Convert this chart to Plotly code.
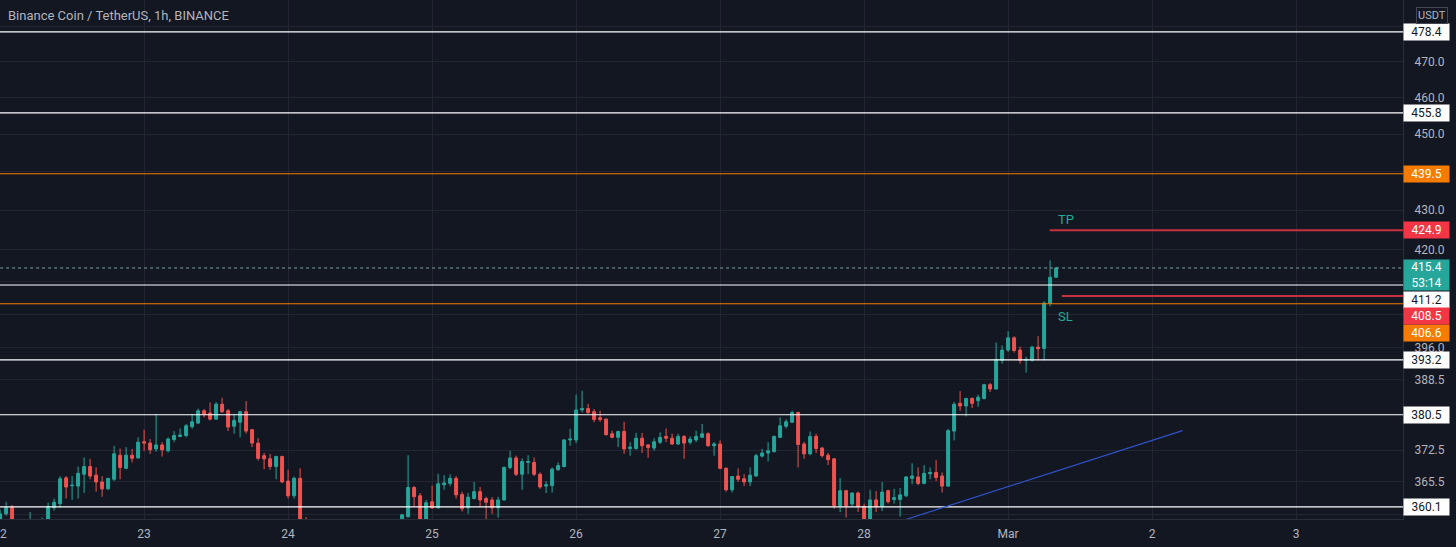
import numpy as np
import pandas as pd
import plotly.graph_objects as go

# ---------------- data (BNB/USDT, 1h candles from 2022-02-22 00:00) ----------------
start_time = "2022-02-22 00:00"

opens = [357.4, 358.6, 360.0, 355.0, 353.5, 355.0, 356.0, 354.5, 356.5, 359.9,
         360.8, 366.4, 364.7, 364.6, 367.2, 368.9, 367.0, 365.5, 364.0, 366.1,
         371.4, 368.5, 371.4, 370.8, 374.4, 374.1, 372.8, 373.7, 372.4, 374.9,
         375.6, 375.8, 377.8, 378.6, 381.4, 380.9, 379.5, 382.9, 381.4, 377.9,
         378.8, 381.2, 377.1, 374.1, 371.3, 370.6, 368.9, 371.1, 365.7, 362.5,
         366.3, 354.0, 351.0, 346.0, 338.0, 343.0, 346.0, 344.0, 348.0, 350.0,
         347.0, 350.0, 352.0, 350.0, 351.0, 353.0, 355.0, 357.3, 358.0, 364.3,
         362.5, 356.5, 361.2, 359.9, 364.9, 365.2, 366.3, 362.8, 359.9, 361.9,
         363.4, 361.9, 361.6, 359.9, 361.6, 368.7, 370.8, 367.2, 369.8, 369.8,
         367.2, 364.6, 364.7, 368.2, 368.9, 374.8, 374.8, 381.6, 381.9, 381.2,
         379.8, 379.5, 376.2, 375.4, 376.7, 372.9, 372.9, 375.2, 373.7, 373.0,
         374.3, 375.6, 375.2, 373.9, 375.6, 374.3, 374.8, 375.4, 376.2, 373.5,
         373.9, 368.5, 363.8, 366.8, 366.2, 365.5, 366.8, 371.2, 371.9, 372.2,
         375.4, 377.9, 378.8, 381.0, 373.9, 371.7, 375.6, 373.0, 371.4, 370.6,
         360.4, 363.6, 360.7, 363.1, 360.2, 356.5, 361.6, 360.2, 363.6, 361.7,
         361.7, 362.5, 366.3, 366.6, 365.2, 367.3, 367.6, 366.8, 364.6, 376.8,
         383.1, 382.5, 384.2, 383.7, 384.2, 387.4, 386.4, 393.1, 395.5, 398.4,
         395.5, 393.1, 393.1, 396.2, 395.9, 406.7, 413.1]
highs = [359.5, 361.2, 360.5, 356.5, 356.0, 359.0, 356.8, 357.8, 361.0, 361.9,
         366.8, 366.8, 366.8, 368.9, 370.9, 370.6, 368.7, 366.8, 366.4, 373.5,
         372.9, 373.2, 372.8, 375.4, 377.1, 375.0, 380.7, 374.3, 375.4, 376.8,
         377.4, 378.4, 380.7, 381.9, 381.8, 383.3, 383.4, 384.4, 381.8, 380.7,
         381.4, 383.6, 377.3, 375.2, 371.9, 371.7, 371.3, 371.3, 368.2, 366.7,
         368.5, 357.9, 353.0, 348.0, 345.0, 348.0, 350.0, 349.0, 352.0, 352.0,
         351.0, 354.0, 355.0, 353.0, 355.0, 356.0, 357.3, 358.6, 371.4, 364.6,
         363.1, 361.6, 364.7, 367.3, 367.0, 367.2, 366.8, 363.4, 363.1, 365.5,
         364.4, 362.3, 362.2, 362.3, 368.9, 372.4, 371.3, 370.7, 371.4, 370.9,
         367.6, 365.7, 368.7, 369.8, 375.0, 377.3, 385.1, 386.0, 383.0, 381.8,
         381.4, 379.7, 376.9, 376.9, 378.9, 374.3, 376.4, 376.4, 373.9, 375.2,
         376.5, 377.4, 376.2, 376.2, 375.9, 375.6, 376.9, 378.4, 376.5, 374.3,
         374.7, 368.7, 366.8, 368.5, 367.2, 368.7, 371.7, 372.8, 374.3, 375.8,
         379.9, 379.5, 381.4, 381.2, 374.4, 376.7, 376.2, 373.2, 371.9, 370.7,
         366.4, 363.8, 363.2, 363.4, 360.8, 363.8, 363.5, 365.5, 363.8, 364.0,
         364.2, 366.8, 369.6, 368.7, 369.2, 368.7, 370.3, 367.6, 377.3, 383.4,
         385.9, 384.4, 384.5, 385.1, 387.6, 387.8, 397.3, 396.6, 400.0, 398.8,
         396.3, 393.9, 396.5, 398.8, 407.2, 417.3, 415.7]
lows = [355.5, 358.2, 354.0, 352.0, 351.5, 353.5, 353.0, 353.5, 355.5, 359.3,
        359.9, 361.9, 361.6, 361.9, 363.1, 366.1, 363.4, 362.3, 363.8, 365.7,
        366.1, 368.3, 369.8, 370.6, 372.4, 371.7, 372.2, 371.1, 372.0, 374.3,
        375.4, 375.4, 377.3, 378.4, 379.9, 379.2, 379.4, 380.9, 376.8, 376.2,
        375.4, 376.2, 373.2, 370.2, 368.3, 368.2, 366.1, 365.3, 361.9, 361.9,
        352.0, 349.0, 344.0, 331.0, 335.0, 340.0, 342.0, 343.0, 346.0, 345.0,
        345.0, 348.0, 349.0, 347.0, 350.0, 351.0, 352.0, 356.0, 357.8, 360.2,
        355.0, 355.0, 359.7, 359.7, 363.8, 364.6, 361.9, 359.1, 358.6, 361.7,
        360.1, 357.5, 358.6, 357.8, 361.4, 368.3, 366.8, 363.8, 367.2, 366.8,
        364.0, 363.1, 363.2, 367.9, 368.7, 373.5, 374.1, 381.0, 380.7, 378.8,
        378.9, 375.8, 375.2, 373.2, 371.7, 371.3, 372.6, 371.9, 370.8, 372.4,
        373.9, 374.3, 373.7, 373.7, 370.6, 373.8, 374.3, 375.2, 373.3, 371.3,
        368.3, 363.4, 363.2, 365.5, 364.6, 364.6, 366.7, 370.9, 370.0, 372.0,
        375.2, 377.4, 378.6, 368.7, 370.6, 371.4, 371.9, 370.9, 369.2, 359.7,
        359.0, 357.8, 360.2, 359.0, 355.0, 355.5, 359.0, 359.2, 360.8, 360.8,
        358.0, 362.2, 365.0, 364.8, 365.0, 366.1, 365.7, 363.2, 364.4, 374.7,
        381.4, 380.1, 382.0, 382.3, 384.0, 385.7, 386.3, 392.3, 395.1, 394.9,
        392.3, 390.2, 392.8, 393.1, 393.1, 406.0, 412.9]
closes = [358.6, 360.0, 355.0, 353.5, 355.0, 356.0, 354.5, 356.5, 360.2, 361.1,
          366.2, 364.4, 364.8, 367.4, 368.9, 366.8, 365.5, 364.0, 366.3, 371.7,
          368.7, 371.4, 370.7, 374.3, 374.1, 372.6, 373.7, 372.6, 375.0, 375.8,
          375.9, 378.0, 378.9, 381.4, 380.6, 379.5, 382.9, 381.2, 377.7, 379.2,
          381.2, 376.8, 374.1, 370.7, 370.6, 368.9, 371.1, 365.5, 362.5, 366.3,
          354.0, 351.0, 346.0, 338.0, 343.0, 346.0, 344.0, 348.0, 350.0, 347.0,
          350.0, 352.0, 350.0, 351.0, 353.0, 355.0, 357.2, 358.4, 364.3, 362.3,
          356.5, 361.0, 359.9, 365.1, 365.3, 366.3, 362.7, 359.7, 362.2, 363.4,
          361.6, 361.1, 359.9, 361.6, 368.7, 370.8, 367.2, 370.0, 370.0, 367.2,
          364.4, 364.9, 368.3, 369.1, 374.8, 375.0, 381.6, 381.9, 381.0, 379.4,
          379.4, 376.0, 375.4, 376.7, 372.8, 373.2, 375.2, 373.5, 373.1, 374.4,
          375.4, 375.2, 373.9, 375.6, 374.1, 375.0, 375.6, 376.2, 373.5, 373.9,
          368.5, 363.8, 366.7, 366.1, 365.5, 367.0, 371.3, 371.9, 372.4, 375.6,
          378.0, 378.9, 381.0, 373.8, 371.7, 375.6, 372.9, 371.3, 370.4, 360.4,
          363.6, 360.4, 363.1, 360.2, 356.5, 361.6, 360.2, 363.3, 361.2, 362.1,
          362.7, 366.6, 366.8, 365.2, 367.4, 367.6, 366.5, 364.6, 376.9, 382.9,
          382.5, 384.2, 383.1, 384.5, 387.4, 386.4, 393.3, 395.5, 398.4, 395.4,
          393.1, 393.3, 396.2, 395.8, 406.8, 413.1, 415.4]

white_levels = [478.4, 455.8, 411.2, 393.2, 380.5, 360.1]
orange_levels = [439.5, 406.6]
tp_level = 424.9
sl_level = 408.5
last_price = 415.4
countdown = "53:14"
tp_start = "2022-03-01 06:57"
sl_start = "2022-03-01 08:57"
trend_times = ["2022-02-28 06:00", "2022-03-02 05:04"]
trend_prices = [357.0, 376.9]

grid_vals = [358.5, 365.5, 372.5, 380.5, 388.5, 396.0, 404.0, 412.0, 420.0,
             430.0, 440.0, 450.0, 460.0, 470.0, 480.0]
grid_text = ["", "365.5", "372.5", "", "388.5", "396.0", "", "", "420.0",
             "430.0", "", "450.0", "460.0", "470.0", ""]
day_ticks = ["2022-02-22", "2022-02-23", "2022-02-24", "2022-02-25", "2022-02-26",
             "2022-02-27", "2022-02-28", "2022-03-01", "2022-03-02", "2022-03-03"]
day_text = ["22", "23", "24", "25", "26", "27", "28", "Mar", "2", "3"]

x_range = ["2022-02-21 23:59:00", "2022-03-03 17:49:00"]
y_range = [357.5, 487.6]

# ---------------- styles ----------------
BG = "#131722"
GRID = "#232632"
TXT = "#b2b5be"
UP = "#26a69a"
DOWN = "#ef5350"
ORANGE = "#f57c00"
RED = "#f23645"
RED_LINE = "#c8303f"
FONT = "Roboto"

times = pd.date_range(start_time, periods=len(opens), freq="h")

fig = go.Figure()
fig.add_trace(go.Candlestick(
    x=times, open=opens, high=highs, low=lows, close=closes,
    increasing=dict(line=dict(color=UP, width=1), fillcolor=UP),
    decreasing=dict(line=dict(color=DOWN, width=1), fillcolor=DOWN),
    showlegend=False, hoverinfo="skip"))

far_left, far_right = "2022-02-20", "2022-03-05"


def hline(level, color, width=1.0, dash="solid", x0=far_left):
    fig.add_trace(go.Scatter(x=[x0, far_right], y=[level, level], mode="lines",
                             line=dict(color=color, width=width, dash=dash),
                             showlegend=False, hoverinfo="skip"))


hline(last_price, "#7f9ea0", 1, "dot")
for lv in white_levels:
    hline(lv, "#ffffff", 1.2)
for lv in orange_levels:
    hline(lv, ORANGE, 1.1)
hline(tp_level, RED_LINE, 2, x0=tp_start)
hline(sl_level, RED_LINE, 2, x0=sl_start)

fig.add_trace(go.Scatter(x=trend_times, y=trend_prices, mode="lines",
                         line=dict(color="#2f52c9", width=1.2),
                         showlegend=False, hoverinfo="skip"))

annotations = []


def price_label(value, bg, fg, yshift=0, text=None, height=14):
    annotations.append(dict(
        xref="paper", x=1, xanchor="left", yref="y", y=np.log10(value),
        yanchor="middle", yshift=yshift,
        text=text if text is not None else f"{value:.1f}",
        showarrow=False, bgcolor=bg, font=dict(color=fg, size=12, family=FONT),
        width=43, height=height, borderpad=1, align="center"))


for lv in white_levels:
    shift = -15 if lv == 411.2 else 0
    price_label(lv, "#ffffff", BG, shift)
price_label(439.5, ORANGE, "#ffffff")
price_label(406.6, ORANGE, "#ffffff", -29)
price_label(tp_level, RED, "#ffffff")
price_label(sl_level, RED, "#ffffff", -20)
price_label(last_price, UP, "#ffffff", -7,
            text=f"{last_price:.1f}<br>{countdown}", height=28)

annotations.append(dict(xref="x", x="2022-03-01 09:36", yref="y", y=np.log10(tp_level),
                        yshift=11, text="TP", showarrow=False,
                        font=dict(color="#22ab94", size=13, family=FONT)))
annotations.append(dict(xref="x", x="2022-03-01 09:36", yref="y", y=np.log10(sl_level),
                        yshift=-21, text="SL", showarrow=False,
                        font=dict(color="#22ab94", size=13, family=FONT)))
annotations.append(dict(xref="paper", x=0, xanchor="left", xshift=6,
                        yref="paper", y=1, yanchor="top", yshift=-6,
                        text="Binance Coin / TetherUS, 1h, BINANCE", showarrow=False,
                        font=dict(color=TXT, size=13, family=FONT)))
annotations.append(dict(xref="paper", x=1, xanchor="left", xshift=13,
                        yref="paper", y=1, yanchor="top", yshift=-7,
                        text="USDT", showarrow=False, bordercolor="#434651",
                        borderwidth=1, borderpad=1,
                        font=dict(color=TXT, size=11, family=FONT)))

fig.update_layout(
    width=1456, height=547,
    margin=dict(l=0, r=53, t=0, b=28, autoexpand=False),
    paper_bgcolor=BG, plot_bgcolor=BG,
    font=dict(family=FONT, color=TXT, size=12),
    showlegend=False,
    annotations=annotations,
    xaxis=dict(type="date", range=x_range, rangeslider=dict(visible=False),
               tickvals=day_ticks, ticktext=day_text, showgrid=True,
               gridcolor=GRID, gridwidth=1, zeroline=False, showline=True,
               linecolor="#2a2e39", ticks="", tickfont=dict(size=12, color=TXT),
               ticklabelstandoff=4, ticklabeloverflow="allow", automargin=False),
    yaxis=dict(type="log", range=[np.log10(y_range[0]), np.log10(y_range[1])],
               side="right", tickvals=grid_vals, ticktext=grid_text,
               showgrid=True, gridcolor=GRID, gridwidth=1, zeroline=False,
               showline=True, linecolor="#2a2e39", ticks="", automargin=False,
               tickfont=dict(size=12, color=TXT), ticklabelstandoff=8),
)

fig.write_html("out.html")
